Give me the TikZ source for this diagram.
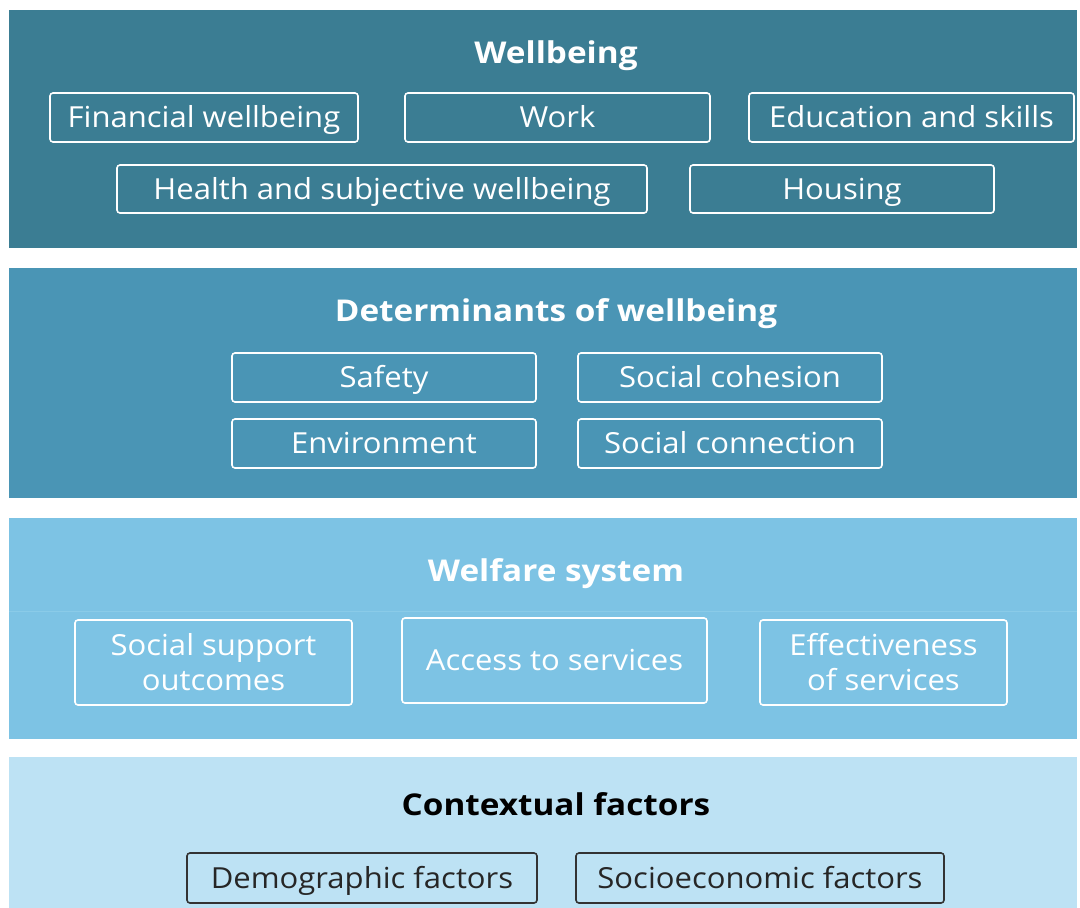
\documentclass[tikz,border=0pt]{standalone}
\usepackage{fontspec}
\setmainfont{Open Sans}
\newfontfamily\boxfont[FakeStretch=1.07]{Open Sans}
\newfontfamily\titlefont[FakeStretch=1.11]{Open Sans}
\definecolor{bandA}{HTML}{3B7D93}
\definecolor{bandB}{HTML}{4A95B5}
\definecolor{bandC}{HTML}{7DC3E4}
\definecolor{bandCl}{HTML}{8ACBE8}
\definecolor{bandD}{HTML}{BDE2F4}
\definecolor{darkline}{HTML}{333333}
\begin{document}
\begin{tikzpicture}[x=1pt,y=-1pt,
  box/.style={draw=white, line width=1.6pt, rounded corners=3pt, text=white,
    font=\boxfont\fontsize{29}{35}\selectfont, inner sep=0pt, align=center},
  onebox/.style={box, text height=20.7pt, text depth=0pt},
  dbox/.style={onebox, draw=darkline, text=black!85},
  title/.style={font=\titlefont\fontsize{30}{36}\selectfont\bfseries, text=white,
    inner sep=0pt, text height=21.4pt, text depth=0pt}]
\useasboundingbox (0,0) rectangle (1080,908);
\fill[white] (0,0) rectangle (1080,908);
% bands
\fill[bandA] (9,10) rectangle (1077,248);
\fill[bandB] (9,268) rectangle (1077,498);
\fill[bandC] (9,518) rectangle (1077,739);
\draw[bandCl, line width=1pt] (9,611) -- (1077,611);
\fill[bandD] (9,757) rectangle (1077,908);
% titles
\node[title] (t1) at (556,52.5) {Wellbeing};
\node[title] (t2) at (556,311) {Determinants of wellbeing};
\node[title] (t3) at (556,571) {Welfare system};
\node[title, text=black] (t4) at (556,805) {Contextual factors};
% wellbeing boxes
\node[onebox, minimum width=308pt, minimum height=49pt] (fin) at (204,117.5) {Financial wellbeing};
\node[onebox, minimum width=305pt, minimum height=49pt] (work) at (557.5,117.5) {Work};
\node[onebox, minimum width=325pt, minimum height=49pt] (edu) at (911.5,117.5) {Education and skills};
\node[onebox, minimum width=530pt, minimum height=48pt] (health) at (382,189) {Health and subjective wellbeing};
\node[onebox, minimum width=304pt, minimum height=48pt] (house) at (842,189) {Housing};
% determinants
\node[onebox, minimum width=304pt, minimum height=49pt] (safe) at (384,377.5) {Safety};
\node[onebox, minimum width=304pt, minimum height=49pt] (coh) at (730,377.5) {Social cohesion};
\node[onebox, minimum width=304pt, minimum height=49pt] (env) at (384,443.5) {Environment};
\node[onebox, minimum width=304pt, minimum height=49pt] (conn) at (730,443.5) {Social connection};
% welfare
\node[box, minimum width=277pt, minimum height=85pt] (sso) at (213.5,662.5) {Social support\\outcomes};
\node[onebox, minimum width=305pt, minimum height=85pt] (acc) at (554.5,660.5) {Access to services};
\node[box, minimum width=247pt, minimum height=85pt] (eff) at (883.5,662.5) {Effectiveness\\of services};
% contextual
\node[dbox, minimum width=350pt, minimum height=50pt] (demo) at (362,878) {Demographic factors};
\node[dbox, minimum width=368pt, minimum height=50pt] (soc) at (760,878) {Socioeconomic factors};
\end{tikzpicture}
\end{document}
